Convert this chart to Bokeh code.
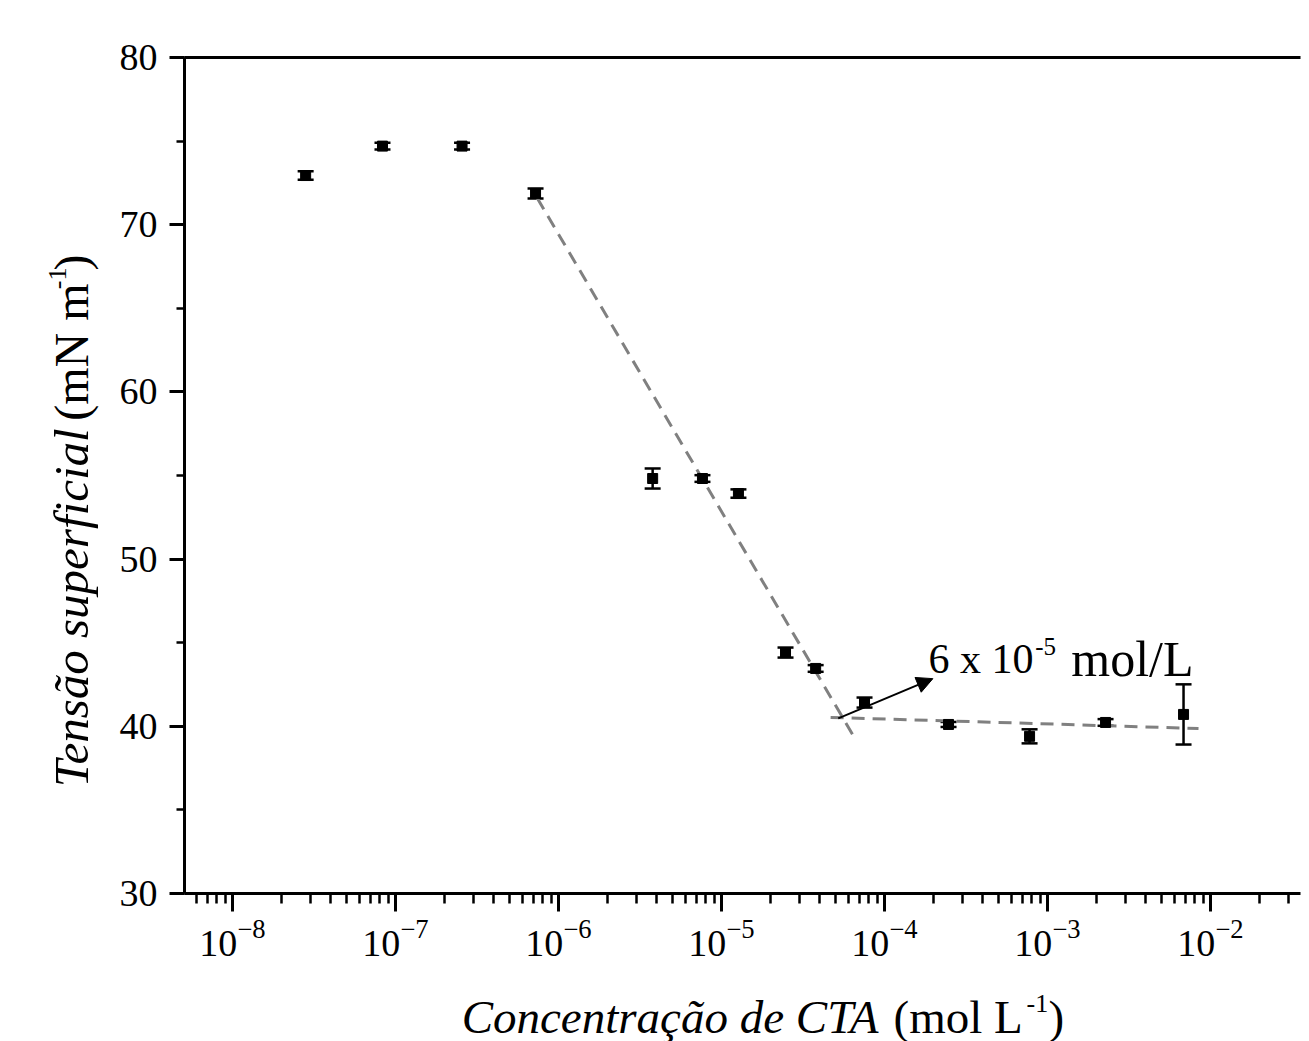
import math
from bokeh.plotting import figure
from bokeh.layouts import row, column
from bokeh.models import (Range1d, LogTicker, SingleIntervalTicker, FixedTicker, Whisker, TeeHead,
                          ColumnDataSource, Arrow, NormalHead, LogAxis)
from bokeh.core.properties import value
from bokeh.embed import file_html
from bokeh.resources import INLINE

# ---- data ----
conc = [2.81e-8, 8.32e-8, 2.56e-7, 7.23e-7, 3.78e-6, 7.64e-6, 1.27e-5,
        2.47e-5, 3.78e-5, 7.54e-5, 2.47e-4, 7.76e-4, 2.27e-3, 6.83e-3]
tension = [72.94, 74.70, 74.70, 71.87, 54.82, 54.82, 53.92,
           44.41, 43.46, 41.42, 40.11, 39.40, 40.23, 40.71]
err = [0.25, 0.2, 0.2, 0.3, 0.6, 0.2, 0.25, 0.3, 0.2, 0.3, 0.15, 0.42, 0.2, 1.8]

fit1_x = [7.4e-7, 6.7e-5]
fit1_y = [71.6, 39.15]
fit2_x = [4.67e-5, 8.44e-3]
fit2_y = [40.53, 39.87]

cmc_arrow_x = [5.2e-5, 1.98e-4]
cmc_arrow_y = [40.47, 42.85]
cmc_text = ["6 x 10", "-5", "mol/L"]

x_lo_log, x_hi_log = -8.2945, -1.448
y_lo, y_hi = 30, 80

SERIF = "Liberation Serif"

# layout sizes (pixels)
LEFT_W = 100
MAIN_W = 1201
TOP_H = 985
BOT_H = 56
TOTAL_W = LEFT_W + MAIN_W

p = figure(width=MAIN_W, height=TOP_H, x_axis_type="log",
           x_range=Range1d(10 ** x_lo_log, 10 ** x_hi_log),
           y_range=Range1d(y_lo, y_hi),
           output_backend="svg", toolbar_location=None,
           min_border_left=84, min_border_right=1, min_border_top=57, min_border_bottom=92)
p.title.visible = False
p.grid.visible = False
p.outline_line_color = None

p.xaxis.ticker = LogTicker(desired_num_ticks=8, num_minor_ticks=10)
p.yaxis.ticker = SingleIntervalTicker(interval=10, num_minor_ticks=2)

for ax in (p.xaxis[0], p.yaxis[0]):
    ax.axis_line_width = 3
    ax.axis_line_color = "black"
    ax.major_tick_line_width = 3
    ax.minor_tick_line_width = 2.5
    ax.major_tick_in = 0
    ax.minor_tick_in = 0
    ax.major_label_text_font = SERIF
    ax.major_label_text_font_size = "38px"
    ax.major_label_text_color = "black"
p.xaxis.major_tick_out = 18
p.xaxis.minor_tick_out = 10
p.xaxis.major_label_standoff = 8
p.yaxis.major_tick_out = 15
p.yaxis.minor_tick_out = 8
p.yaxis.major_label_standoff = 12

top_axis = LogAxis(ticker=FixedTicker(ticks=[]), axis_line_width=3, axis_line_color="black",
                   major_label_text_font_size="0px")
p.add_layout(top_axis, "above")

# fit lines
p.line(fit1_x, fit1_y, line_color="#808080", line_width=3, line_dash="13 8")
p.line(fit2_x, fit2_y, line_color="#808080", line_width=3, line_dash="13 8")

# data with error bars
src = ColumnDataSource(dict(x=conc, y=tension,
                            upper=[t + e for t, e in zip(tension, err)],
                            lower=[t - e for t, e in zip(tension, err)]))
p.add_layout(Whisker(source=src, base="x", upper="upper", lower="lower", dimension="height",
                     line_width=2.5, line_color="black",
                     upper_head=TeeHead(size=16, line_width=2.5, line_color="black"),
                     lower_head=TeeHead(size=16, line_width=2.5, line_color="black")))
p.scatter("x", "y", source=src, marker="square", size=10, color="black")

# arrow
p.add_layout(Arrow(x_start=cmc_arrow_x[0], y_start=cmc_arrow_y[0],
                   x_end=cmc_arrow_x[1], y_end=cmc_arrow_y[1],
                   line_width=2, line_color="black",
                   end=NormalHead(size=16, fill_color="black", line_color="black")))

# annotation text "6 x 10^-5 mol/L" (inside plot frame)
def ptext(txt, x, y, size, align="left"):
    p.text(x=[x], y=[y], text=[txt], text_font=value(SERIF), text_font_size=size,
           text_baseline="alphabetic", text_align=align, text_color="black")

ptext(cmc_text[0], 1.862e-4, 44.0, "42px")
ptext(cmc_text[1], 8.4e-4, 44.8, "25px")
ptext(cmc_text[2], 1.4e-3, 44.0, "50px")


def text_panel(w, h):
    f = figure(width=w, height=h, x_range=Range1d(0, w), y_range=Range1d(0, h),
               output_backend="svg", toolbar_location=None, min_border=0,
               x_axis_location=None, y_axis_location=None)
    f.title.visible = False
    f.grid.visible = False
    f.outline_line_color = None
    return f


def put(f, txt, x, y, size, style="normal", align="left", angle=0.0):
    f.text(x=[x], y=[y], text=[txt], text_font=value(SERIF), text_font_size=size,
           text_font_style=style, text_align=align, text_baseline="alphabetic",
           text_color="black", angle=angle)


# y axis title panel (left); x = window px, y = TOP_H - window py
yt = text_panel(LEFT_W, TOP_H)
r = math.pi / 2
put(yt, "Tensão superficial", 71, TOP_H - 437, "49px", style="italic", align="right", angle=r)
put(yt, "(mN m", 71, TOP_H - 428, "48px", angle=r)
put(yt, "-1", 57, TOP_H - 273, "26px", angle=r)
put(yt, ")", 71, TOP_H - 251, "48px", angle=r)

# x axis title panel (bottom); x = window px, y = 1041 - window py
xt = text_panel(TOTAL_W, BOT_H)
base = TOP_H + BOT_H
put(xt, "Concentração de CTA", 878, base - 1016, "47px", style="italic", align="right")
put(xt, "(mol L", 893, base - 1016, "47px")
put(xt, "-1", 1026, base - 1003, "26px")
put(xt, ")", 1048, base - 1016, "47px")

layout = column(row(yt, p), xt)
open("out.html", "w").write(file_html(layout, INLINE))
